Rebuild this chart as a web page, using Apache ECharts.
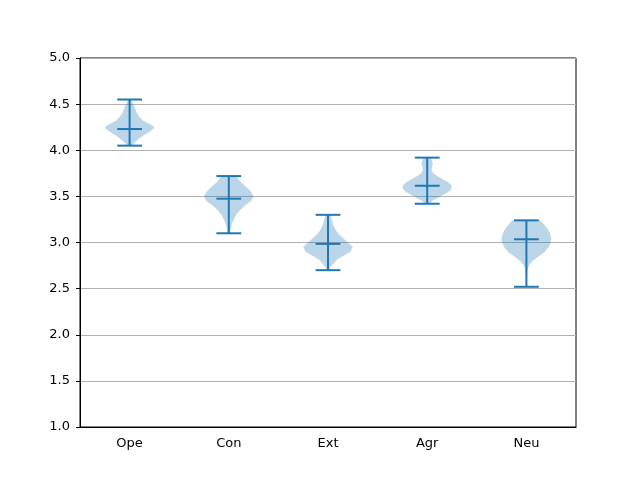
<!DOCTYPE html>
<html>
<head>
    <meta charset="utf-8">
    <title>Violin</title>
    <script src="https://cdn.jsdelivr.net/npm/echarts@6/dist/echarts.min.js"></script>
</head>
<body style="margin:0">
    <div id="main" style="width: 640px;height:480px;"></div>
    <script type="text/javascript">
        var categories = ['Ope', 'Con', 'Ext', 'Agr', 'Neu'];
        var mins  = [4.05, 3.10, 2.70, 3.42, 2.52];
        var maxs  = [4.55, 3.72, 3.30, 3.92, 3.24];
        var means = [4.23, 3.475, 2.985, 3.615, 3.035];

        // density profiles (y value, relative width)
        var opeY = [4.05, 4.08, 4.12, 4.16, 4.20, 4.23, 4.25, 4.28, 4.32, 4.36, 4.40, 4.45, 4.50, 4.55];
        var opeD = [0.1, 0.2, 0.35, 0.55, 0.8, 0.95, 1.0, 0.85, 0.55, 0.4, 0.3, 0.22, 0.15, 0.05];
        var conY = [3.10, 3.15, 3.20, 3.25, 3.30, 3.35, 3.40, 3.45, 3.50, 3.55, 3.60, 3.65, 3.70, 3.72];
        var conD = [0.05, 0.08, 0.12, 0.2, 0.3, 0.45, 0.65, 0.9, 1.0, 0.9, 0.72, 0.5, 0.35, 0.3];
        var extY = [2.70, 2.74, 2.78, 2.82, 2.86, 2.90, 2.95, 3.00, 3.05, 3.10, 3.15, 3.20, 3.25, 3.30];
        var extD = [0.05, 0.12, 0.25, 0.4, 0.65, 0.9, 1.0, 0.8, 0.6, 0.4, 0.28, 0.2, 0.15, 0.1];
        var agrY = [3.42, 3.45, 3.48, 3.51, 3.54, 3.57, 3.60, 3.63, 3.66, 3.69, 3.72, 3.75, 3.78, 3.81, 3.84, 3.87, 3.90, 3.92];
        var agrD = [0.1, 0.2, 0.4, 0.6, 0.8, 0.95, 1.0, 0.95, 0.8, 0.6, 0.4, 0.25, 0.18, 0.18, 0.22, 0.22, 0.18, 0.1];
        var neuY = [2.52, 2.60, 2.70, 2.75, 2.80, 2.85, 2.90, 2.95, 3.00, 3.05, 3.10, 3.15, 3.20, 3.24];
        var neuD = [0.01, 0.02, 0.04, 0.1, 0.25, 0.5, 0.75, 0.9, 0.98, 1.0, 0.95, 0.85, 0.7, 0.55];

        var profY = [opeY, conY, extY, agrY, neuY];
        var profD = [opeD, conD, extD, agrD, neuD];

        var blue = '#1f77b4';

        var myChart = echarts.init(document.getElementById('main'));

        function renderItem(params, api) {
            var i = params.dataIndex;
            var cx = api.coord([i, 0])[0];
            var band = api.size([1, 0])[0];
            var hw = band * 0.25;   // violin half width
            var cap = band * 0.125; // cap half length
            var ys = profY[i], ds = profD[i];
            var pts = [];
            for (var k = 0; k < ys.length; k++) {
                var py = api.coord([i, ys[k]])[1];
                pts.push([cx + hw * ds[k], py]);
            }
            for (var k = ys.length - 1; k >= 0; k--) {
                var py = api.coord([i, ys[k]])[1];
                pts.push([cx - hw * ds[k], py]);
            }
            var yMin = api.coord([i, api.value(1)])[1];
            var yMax = api.coord([i, api.value(2)])[1];
            var yMean = api.coord([i, api.value(3)])[1];
            var ls = { stroke: blue, lineWidth: 2 };
            return {
                type: 'group',
                children: [
                    { type: 'polygon', shape: { points: pts }, style: { fill: blue, opacity: 0.3 } },
                    { type: 'line', shape: { x1: cx, y1: yMin, x2: cx, y2: yMax }, style: ls },
                    { type: 'line', shape: { x1: cx - cap, y1: yMin, x2: cx + cap, y2: yMin }, style: ls },
                    { type: 'line', shape: { x1: cx - cap, y1: yMax, x2: cx + cap, y2: yMax }, style: ls },
                    { type: 'line', shape: { x1: cx - cap, y1: yMean, x2: cx + cap, y2: yMean }, style: ls }
                ]
            };
        }

        myChart.setOption({
            animation: false,
            textStyle: { fontFamily: 'DejaVu Sans' },
            grid: {
                left: 80, right: 64, top: 58, bottom: 53,
                show: true, borderColor: '#000', borderWidth: 1
            },
            xAxis: {
                type: 'category',
                data: categories,
                axisLine: { lineStyle: { color: '#000', width: 1 } },
                axisTick: { alignWithLabel: true, length: 4, lineStyle: { color: '#000' } },
                axisLabel: { color: '#000', fontSize: 13, margin: 10 },
                splitLine: { show: false }
            },
            yAxis: {
                type: 'value',
                min: 1, max: 5, interval: 0.5,
                axisLine: { show: true, lineStyle: { color: '#000', width: 1 } },
                axisTick: { show: true, length: 4, lineStyle: { color: '#000' } },
                axisLabel: { color: '#000', fontSize: 13, margin: 10,
                    formatter: function (v) { return v.toFixed(1); } },
                splitLine: { show: true, lineStyle: { color: '#b0b0b0', width: 1 } }
            },
            series: [{
                type: 'custom',
                renderItem: renderItem,
                data: categories.map(function (c, i) { return [i, mins[i], maxs[i], means[i]]; })
            }]
        });
    </script>
</body>
</html>
